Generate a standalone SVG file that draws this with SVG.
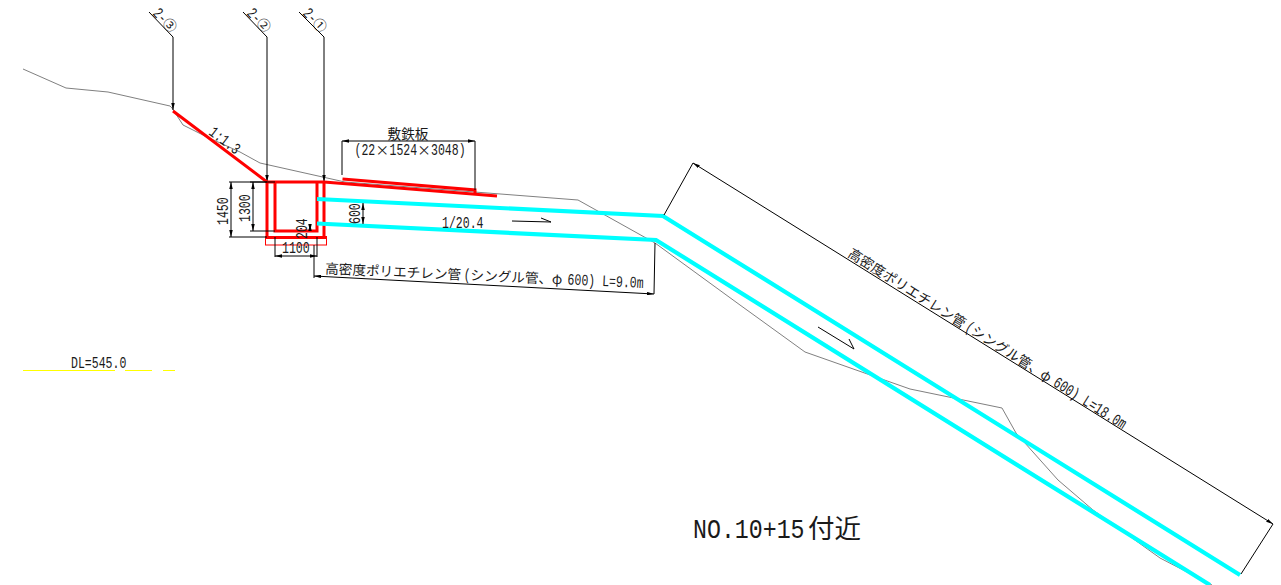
<svg xmlns="http://www.w3.org/2000/svg" width="1281" height="585" viewBox="0 0 1281 585">
<style>
text{font-family:"Liberation Mono","Noto Sans CJK JP",monospace;fill:#1a1a1a}
.t{font-size:16px}
.j{font-family:"Noto Sans CJK JP","Liberation Mono",sans-serif;font-size:13.6px}
.g{fill:none;stroke:#808080;stroke-width:1}
.k{fill:none;stroke:#000;stroke-width:1}
.d{fill:none;stroke:#000;stroke-width:1;marker-start:url(#a);marker-end:url(#a)}
.e{fill:none;stroke:#000;stroke-width:1;marker-end:url(#a)}
.r{fill:none;stroke:#f00;stroke-width:3}
.c{fill:none;stroke:#0ff;stroke-width:4.200}
</style>
<defs>
<marker id="a" viewBox="0 0 8 4" refX="8" refY="2" markerWidth="7" markerHeight="3.500" markerUnits="userSpaceOnUse" orient="auto-start-reverse"><path d="M0 0L8 2L0 4Z" fill="#000"/></marker>
</defs>
<rect width="1281" height="585" fill="#fff"/>
<g id="ground">
<polyline class="g" points="23,69 66,88 108,92 170,106 172,108 183,125 193,130 207,137 240,152 260,163 345,182 578,200 655,243 740,305 805,352 910,389 1002,408 1016,433 1058,480 1093,510 1160,558 1212,585"/>
</g>
<g id="section-marks">
<path class="k" d="M149,12L173,37"/><path class="e" d="M173,37V110"/>
<path class="k" d="M243,12L267,37"/><path class="e" d="M267,37V182"/>
<path class="k" d="M299,12L324,37"/><path class="e" d="M324,37V182"/>
<g transform="translate(152,14) rotate(46)"><text class="t" transform="scale(.72,1)">2-</text><text class="j" x="13.500">③</text></g>
<g transform="translate(246,14) rotate(46)"><text class="t" transform="scale(.72,1)">2-</text><text class="j" x="13.500">②</text></g>
<g transform="translate(302,14) rotate(46)"><text class="t" transform="scale(.72,1)">2-</text><text class="j" x="13.500">①</text></g>
</g>
<g id="structure">
<path class="r" d="M173,111L267,182H324L497,196"/>
<path class="r" d="M267,182V237M324,182V237M275,182V231H317V182M265,237.500H327"/>
<path fill="none" stroke="#f00" stroke-width="3" d="M342.500,179L475,190V193"/>
<rect x="265.500" y="237.500" width="61" height="7.500" fill="none" stroke="#f00" stroke-width="1"/>
</g>
<g id="pipes">
<polyline class="c" points="317,199 663,216 1240,575"/>
<polyline class="c" points="317,223.500 656,240 1210,585"/>
</g>
<g id="connectors">
<path class="k" d="M229,182H267M229,237H267M250,182H275M250,231H275M275,237V257M317,237V257M342,175V141M475,190V141M314,245V278M655,243L654,294M664,215L693,163M1241,574L1273,524"/>
<path class="d" d="M231,182V237"/>
<path class="d" d="M253,182V231"/>
<path class="d" d="M275,256H317"/>
<path class="d" d="M342,141H475"/>
<path class="d" d="M363,203V224"/>
<path class="d" d="M310,224V231"/>
<path class="d" d="M314,276L654,294"/>
<path class="d" d="M693,163L1273,524"/>
<path class="k" d="M512,221L551,222L541,218M818,327L854,349L849,339"/>
</g>
<g id="labels">
<text class="t" transform="translate(208,134) rotate(37) scale(.72,1)">1:1.3</text>
<text class="j" x="408" y="138.500" text-anchor="middle">敷鉄板</text>
<text class="t" transform="translate(354.500,155) scale(.72,1)">(22</text>
<text class="j" x="382.400" y="155" text-anchor="middle">×</text>
<text class="t" transform="translate(389.500,155) scale(.72,1)">1524</text>
<text class="j" x="424" y="155" text-anchor="middle">×</text>
<text class="t" transform="translate(431,155) scale(.72,1)">3048)</text>
<text class="t" transform="translate(228,225) rotate(-90) scale(.72,1)">1450</text>
<text class="t" transform="translate(250,222) rotate(-90) scale(.72,1)">1300</text>
<text class="t" transform="translate(307,239) rotate(-90) scale(.72,1)">204</text>
<text class="t" transform="translate(360,224) rotate(-90) scale(.72,1)">600</text>
<text class="t" transform="translate(282,253) scale(.72,1)">1100</text>
<text class="t" transform="translate(442,228) scale(.72,1)">1/20.4</text>
<text class="t" transform="translate(71,367.500) scale(.72,1)">DL=545.0</text>
<g transform="translate(325,273.500) rotate(2.600)">
<text class="j">高密度ポリエチレン管</text>
<text class="t" transform="translate(138.600,0) scale(.72,1)">(</text>
<text class="j" x="145.500">シングル管、φ</text>
<text class="t" transform="translate(242.600,0) scale(.72,1)">600)</text>
<text class="t" transform="translate(277.200,0) scale(.72,1)">L=9.0m</text>
</g>
<g transform="translate(847,256) rotate(32.200)">
<text class="j">高密度ポリエチレン管</text>
<text class="t" transform="translate(138.600,0) scale(.72,1)">(</text>
<text class="j" x="145.500">シングル管、φ</text>
<text class="t" transform="translate(242.600,0) scale(.72,1)">600)</text>
<text class="t" transform="translate(277.200,0) scale(.72,1)">L=18.0m</text>
</g>
<text transform="translate(693,537.500) scale(.83,1)" style="font-size:28px">NO.10+15</text>
<text class="j" x="808" y="538" style="font-size:26.500px">付近</text>
</g>
<g id="datum">
<path d="M23,370.500H115M125,370.500H152M163,370.500H175" fill="none" stroke="#ff0" stroke-width="1"/>
</g>
</svg>
